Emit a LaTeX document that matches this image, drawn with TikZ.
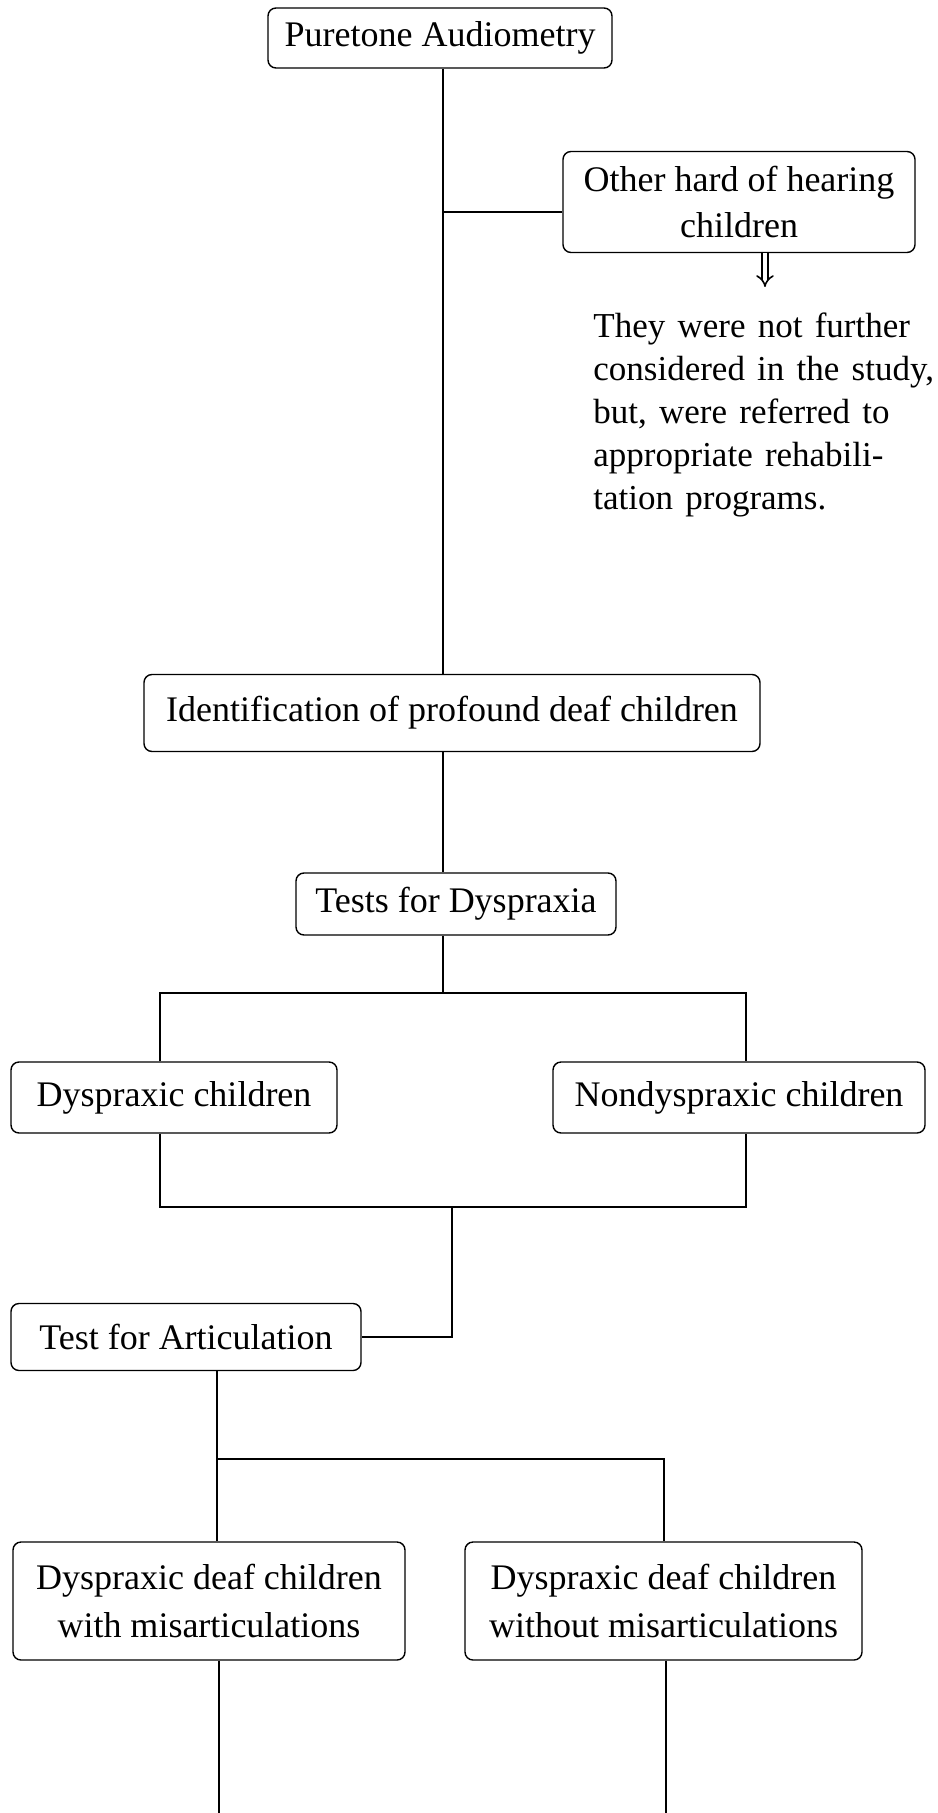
\documentclass[tikz,border=0pt]{standalone}
\usepackage{fontspec}
\setmainfont{Liberation Serif}
\newfontfamily\notefont[WordSpace=1.4]{Liberation Serif}
\usetikzlibrary{arrows.meta}

\begin{document}
\begin{tikzpicture}[x=0.5pt, y=-0.5pt,
        box/.style={draw, line width=0.7pt, rounded corners=4pt, inner sep=0pt, align=center, font=\fontsize{18}{23}\selectfont},
        link/.style={line width=0.9pt}]
        \useasboundingbox (0,0) rectangle (937,1813);
        % boxes
        \node[box, minimum width=172pt, minimum height=30pt] (pta) at (440,38) {Puretone Audiometry};
        \node[box, minimum width=176pt, minimum height=50.5pt] (other) at (739,202) {Other hard of hearing\\children};
        \node[anchor=north west, inner sep=0pt, align=left, font=\notefont\fontsize{17.5}{21.5}\selectfont] (note) at (593,312)
            {They were not further\\considered in the study,\\but, were referred to\\appropriate rehabili-\\tation programs.};
        \node[box, minimum width=308pt, minimum height=38.5pt] (ident) at (452,713) {Identification of profound deaf children};
        \node[box, minimum width=160pt, minimum height=31pt] (tests) at (456,904) {Tests for Dyspraxia};
        \node[box, minimum width=163pt, minimum height=35.5pt] (dysp) at (174,1097.5) {Dyspraxic children};
        \node[box, minimum width=186pt, minimum height=35.5pt] (nondysp) at (739,1097.5) {Nondyspraxic children};
        \node[box, minimum width=175pt, minimum height=33.5pt] (artic) at (186,1337) {Test for Articulation};
        \node[box, minimum width=196pt, minimum height=59pt, font=\fontsize{18}{24}\selectfont] (withmis) at (209,1601) {Dyspraxic deaf children\\with misarticulations};
        \node[box, minimum width=198.5pt, minimum height=59pt, font=\fontsize{18}{24}\selectfont] (withoutmis) at (663.5,1601) {Dyspraxic deaf children\\without misarticulations};
        % junctions
        \coordinate (t1) at (443,212);
        \coordinate (t2) at (443,993);
        \coordinate (dn) at (765,287);
        \coordinate (sl) at (160,993);
        \coordinate (sr) at (746,993);
        \coordinate (ml) at (160,1207);
        \coordinate (mr) at (746,1207);
        \coordinate (mm) at (452,1207);
        \coordinate (al) at (217,1459);
        \coordinate (ar) at (664,1459);
        \coordinate (el) at (219,1813);
        \coordinate (er) at (666,1813);
        % connectors
        \draw[link] (pta.south -| t1) -- (ident.north -| t1);
        \draw[link] (t1) -- (t1 -| other.west);
        \draw[-{Implies}, double, double distance=2.2pt, line width=0.8pt] (other.south -| dn) -- (dn);
        \draw[link] (ident.south -| t1) -- (tests.north -| t1);
        \draw[link] (tests.south -| t2) -- (t2);
        \draw[link] (dysp.north -| sl) -- (sl) -- (sr) -- (nondysp.north -| sr);
        \draw[link] (dysp.south -| ml) -- (ml) -- (mr) -- (nondysp.south -| mr);
        \draw[link] (mm) |- (artic.east);
        \draw[link] (artic.south -| al) -- (withmis.north -| al);
        \draw[link] (al) -- (ar) -- (withoutmis.north -| ar);
        \draw[link] (withmis.south -| el) -- (el);
        \draw[link] (withoutmis.south -| er) -- (er);
    \end{tikzpicture}
\end{document}
